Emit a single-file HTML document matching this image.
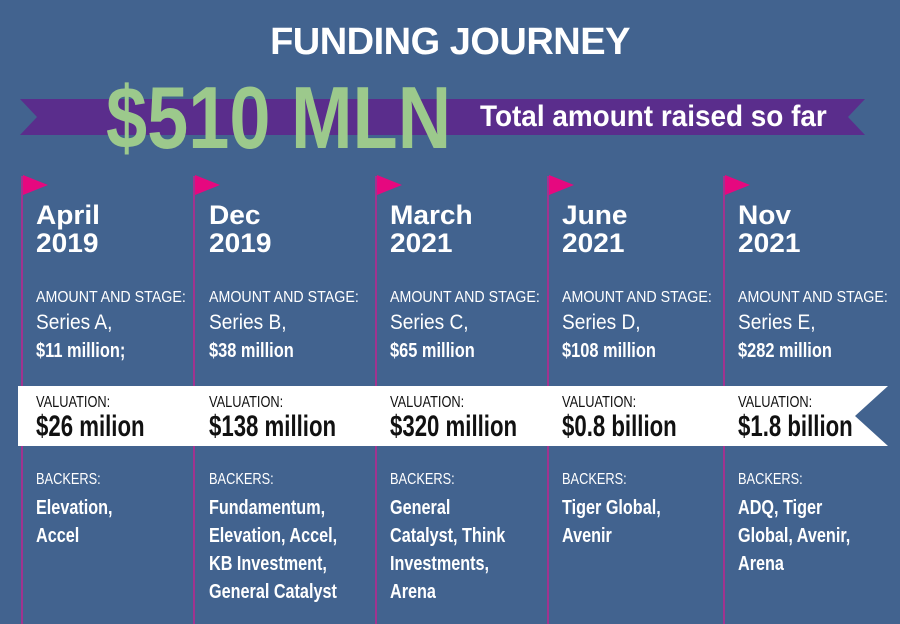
<!DOCTYPE html>
<html><head><meta charset="utf-8"><style>
body{margin:0;width:900px;height:624px;background:#42638f;overflow:hidden;position:relative;font-family:"Liberation Sans",sans-serif;color:#fff}
.a{position:absolute;white-space:nowrap}
.pole{position:absolute;top:176px;width:2px;background:#a0338f}
.flag{position:absolute;top:175px;width:0;height:0;border-top:10px solid transparent;border-bottom:10px solid transparent;border-left:25px solid #e6087f}
.t{position:absolute;white-space:nowrap;transform-origin:0 0}
.d{font-weight:bold;font-size:27px;line-height:28px;transform:scaleX(1.04)}
.lab{font-size:16px;transform:scaleX(0.89)}
.s{font-size:21px;transform:scaleX(0.91)}
.am{font-weight:bold;font-size:20px;transform:scaleX(0.82)}
.vl{font-size:16px;color:#111;transform:scaleX(0.8)}
.vv{font-size:30px;font-weight:bold;color:#111;transform:scaleX(0.74)}
.bl{font-size:16px;transform:scaleX(0.8)}
.b{font-weight:bold;font-size:20px;line-height:28px;transform:scaleX(0.81)}
</style></head><body>
<div class="a" style="left:0;width:900px;top:21px;text-align:center;font-weight:bold;font-size:38px;letter-spacing:-0.5px">FUNDING JOURNEY</div>
<svg class="a" style="left:0;top:0" width="900" height="624">
<polygon points="20,99 865,99 848,117 865,135 20,135 37,117" fill="#5a2d8c"/>
<polygon points="18,386 888,386 855,416 888,446 18,446" fill="#fff"/>
</svg>
<div class="t" style="left:106px;top:70px;font-weight:bold;font-size:88px;line-height:96px;color:#9cc98c;transform:scaleX(0.84)">$510 MLN</div>
<div class="t" style="left:480px;top:100px;font-weight:bold;font-size:30px;line-height:34px;transform:scaleX(0.93)">Total amount raised so far</div>

<div class="pole" style="left:21px;height:210px"></div><div class="pole" style="left:21px;top:446px;height:178px"></div>
<div class="pole" style="left:193px;height:210px"></div><div class="pole" style="left:193px;top:446px;height:178px"></div>
<div class="pole" style="left:375px;height:210px"></div><div class="pole" style="left:375px;top:446px;height:178px"></div>
<div class="pole" style="left:547px;height:210px"></div><div class="pole" style="left:547px;top:446px;height:178px"></div>
<div class="pole" style="left:723px;height:210px"></div><div class="pole" style="left:723px;top:446px;height:178px"></div>
<div class="flag" style="left:23px"></div><div class="flag" style="left:195px"></div><div class="flag" style="left:377px"></div><div class="flag" style="left:549px"></div><div class="flag" style="left:725px"></div>

<div class="t d" style="left:36px;top:201px">April<br>2019</div>
<div class="t d" style="left:209px;top:201px">Dec<br>2019</div>
<div class="t d" style="left:390px;top:201px">March<br>2021</div>
<div class="t d" style="left:562px;top:201px">June<br>2021</div>
<div class="t d" style="left:738px;top:201px">Nov<br>2021</div>

<div class="t lab" style="left:36px;top:289px">AMOUNT AND STAGE:</div>
<div class="t lab" style="left:209px;top:289px">AMOUNT AND STAGE:</div>
<div class="t lab" style="left:390px;top:289px">AMOUNT AND STAGE:</div>
<div class="t lab" style="left:562px;top:289px">AMOUNT AND STAGE:</div>
<div class="t lab" style="left:738px;top:289px">AMOUNT AND STAGE:</div>

<div class="t s" style="left:36px;top:311px">Series A,</div>
<div class="t s" style="left:209px;top:311px">Series B,</div>
<div class="t s" style="left:390px;top:311px">Series C,</div>
<div class="t s" style="left:562px;top:311px">Series D,</div>
<div class="t s" style="left:738px;top:311px">Series E,</div>

<div class="t am" style="left:36px;top:340px">$11 million;</div>
<div class="t am" style="left:209px;top:340px">$38 million</div>
<div class="t am" style="left:390px;top:340px">$65 million</div>
<div class="t am" style="left:562px;top:340px">$108 million</div>
<div class="t am" style="left:738px;top:340px">$282 million</div>

<div class="t vl" style="left:36px;top:394px">VALUATION:</div>
<div class="t vl" style="left:209px;top:394px">VALUATION:</div>
<div class="t vl" style="left:390px;top:394px">VALUATION:</div>
<div class="t vl" style="left:562px;top:394px">VALUATION:</div>
<div class="t vl" style="left:738px;top:394px">VALUATION:</div>

<div class="t vv" style="left:36px;top:410px">$26 milion</div>
<div class="t vv" style="left:209px;top:410px">$138 million</div>
<div class="t vv" style="left:390px;top:410px">$320 million</div>
<div class="t vv" style="left:562px;top:410px">$0.8 billion</div>
<div class="t vv" style="left:738px;top:410px">$1.8 billion</div>

<div class="t bl" style="left:36px;top:471px">BACKERS:</div>
<div class="t bl" style="left:209px;top:471px">BACKERS:</div>
<div class="t bl" style="left:390px;top:471px">BACKERS:</div>
<div class="t bl" style="left:562px;top:471px">BACKERS:</div>
<div class="t bl" style="left:738px;top:471px">BACKERS:</div>

<div class="t b" style="left:36px;top:494px">Elevation,<br>Accel</div>
<div class="t b" style="left:209px;top:494px">Fundamentum,<br>Elevation, Accel,<br>KB Investment,<br>General Catalyst</div>
<div class="t b" style="left:390px;top:494px">General<br>Catalyst, Think<br>Investments,<br>Arena</div>
<div class="t b" style="left:562px;top:494px">Tiger Global,<br>Avenir</div>
<div class="t b" style="left:738px;top:494px">ADQ, Tiger<br>Global, Avenir,<br>Arena</div>
</body></html>
